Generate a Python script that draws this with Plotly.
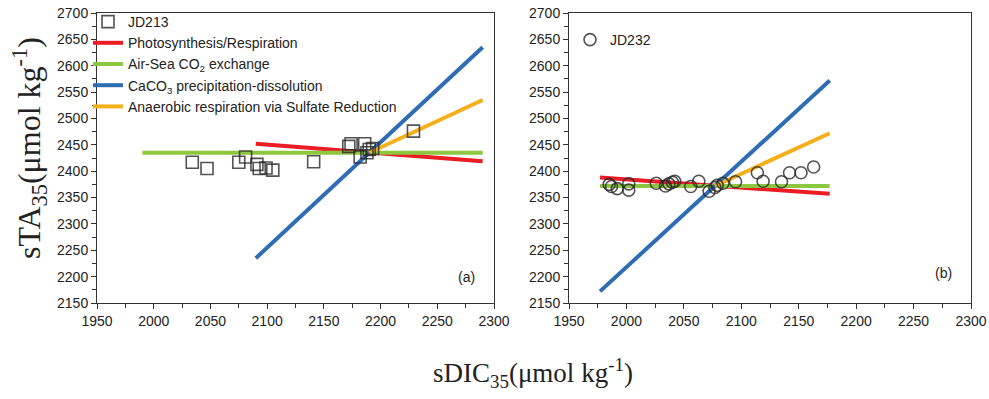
import plotly.graph_objects as go

# ---------------- data ----------------
# Panel (a) JD213
a_dic = [2034, 2047, 2075, 2081, 2091, 2093, 2099, 2105, 2141, 2172, 2174, 2186, 2182, 2188, 2190, 2193, 2229]
a_ta  = [2417, 2405, 2417, 2427, 2413, 2405, 2406, 2402, 2418, 2447, 2452, 2452, 2427, 2435, 2441, 2443, 2476]
# Panel (b) JD232
b_dic = [1985, 1987, 1992, 2002, 2002, 2026, 2034, 2037, 2042, 2040, 2056, 2063, 2072, 2077, 2079, 2084, 2095, 2114, 2119, 2135, 2142, 2152, 2163]
b_ta  = [2375, 2371, 2367, 2376, 2364, 2377, 2372, 2376, 2381, 2379, 2371, 2381, 2362, 2369, 2373, 2377, 2380, 2397, 2381, 2380, 2397, 2397, 2408]

# process vectors (end points) panel a
a_ps_x, a_ps_y = [2090, 2290], [2452, 2419]
a_as_x, a_as_y = [1990, 2290], [2435, 2435]
a_ca_x, a_ca_y = [2090, 2290], [2235, 2635]
a_sr_x, a_sr_y = [2190, 2290], [2435, 2535]
# panel b
b_ps_x, b_ps_y = [1977, 2177], [2388, 2357]
b_as_x, b_as_y = [1977, 2177], [2372, 2372]
b_ca_x, b_ca_y = [1977, 2177], [2172, 2572]
b_sr_x, b_sr_y = [2077, 2177], [2372, 2472]

x_ticks = [1950, 2000, 2050, 2100, 2150, 2200, 2250, 2300]
y_ticks = [2150, 2200, 2250, 2300, 2350, 2400, 2450, 2500, 2550, 2600, 2650, 2700]

names = ["Photosynthesis/Respiration", "Air-Sea CO<sub>2</sub> exchange",
         "CaCO<sub>3</sub> precipitation-dissolution", "Anaerobic respiration via Sulfate Reduction"]
colors = ["#EC1C24", "#8DC63F", "#2E6DB4", "#F3B01B"]

fig = go.Figure()

lines_a = [(a_ps_x, a_ps_y), (a_as_x, a_as_y), (a_ca_x, a_ca_y), (a_sr_x, a_sr_y)]
lines_b = [(b_ps_x, b_ps_y), (b_as_x, b_as_y), (b_ca_x, b_ca_y), (b_sr_x, b_sr_y)]

for i, (xs, ys) in enumerate(lines_a):
    fig.add_trace(go.Scatter(x=xs, y=ys, mode="lines", name=names[i],
                             line=dict(color=colors[i], width=4),
                             xaxis="x", yaxis="y", legend="legend", legendrank=10 + i))
fig.add_trace(go.Scatter(x=a_dic, y=a_ta, mode="markers", name="JD213",
                         marker=dict(symbol="square-open", size=12, color="rgba(40,40,40,0.8)",
                                     line=dict(width=1.6)),
                         xaxis="x", yaxis="y", legend="legend", legendrank=1))

for i, (xs, ys) in enumerate(lines_b):
    fig.add_trace(go.Scatter(x=xs, y=ys, mode="lines", name=names[i], showlegend=False,
                             line=dict(color=colors[i], width=4),
                             xaxis="x2", yaxis="y2"))
fig.add_trace(go.Scatter(x=b_dic, y=b_ta, mode="markers", name="JD232",
                         marker=dict(symbol="circle-open", size=12, color="rgba(40,40,40,0.8)",
                                     line=dict(width=1.6)),
                         xaxis="x2", yaxis="y2", legend="legend2"))

tickfont = dict(family="Liberation Sans, Arial", size=14, color="#222")
axcommon = dict(showgrid=False, zeroline=False, showline=True, linecolor="#333", linewidth=1,
                mirror=True, ticks="outside", ticklen=5, tickcolor="#333", tickfont=tickfont,
                automargin=False,
                minor=dict(dtick=25, ticks="outside", ticklen=4, tickcolor="#333"))

top_px, bot_px = 13, 303
ydom = [1 - bot_px/399, 1 - top_px/399]

fig.update_layout(
    width=989, height=399,
    margin=dict(l=0, r=0, t=0, b=0),
    paper_bgcolor="white", plot_bgcolor="white",
    xaxis=dict(domain=[97/989, 494/989], range=[1950, 2300], tickvals=x_ticks, anchor="y", **axcommon),
    yaxis=dict(domain=ydom, range=[2150, 2700], tickvals=y_ticks, anchor="x", **axcommon),
    xaxis2=dict(domain=[569/989, 971/989], range=[1950, 2300], tickvals=x_ticks, anchor="y2", **axcommon),
    yaxis2=dict(domain=ydom, range=[2150, 2700], tickvals=y_ticks, anchor="x2", **axcommon),
    legend=dict(x=88/989, y=1 - 6/399, xanchor="left", yanchor="top", bgcolor="rgba(0,0,0,0)",
                font=dict(family="Liberation Sans, Arial", size=14, color="#222"),
                tracegroupgap=0, itemwidth=30),
    legend2=dict(x=570/989, y=1 - 24/399, xanchor="left", yanchor="top", bgcolor="rgba(0,0,0,0)",
                 font=dict(family="Liberation Sans, Arial", size=14, color="#222"), itemwidth=30),
    annotations=[
        dict(x=2276, y=2200, xref="x", yref="y", text="(a)", showarrow=False,
             font=dict(family="Liberation Sans, Arial", size=14, color="#222")),
        dict(x=2276, y=2207, xref="x2", yref="y2", text="(b)", showarrow=False,
             font=dict(family="Liberation Sans, Arial", size=14, color="#222")),
        dict(x=29/989, y=1 - 148/399, xref="paper", yref="paper", textangle=-90,
             xanchor="center", yanchor="middle",
             text="sTA<sub>35</sub>(μmol kg<sup>-1</sup>)", showarrow=False,
             font=dict(family="Liberation Serif, Times New Roman", size=32, color="#222")),
        dict(x=533/989, y=1 - 373/399, xref="paper", yref="paper",
             xanchor="center", yanchor="middle",
             text="sDIC<sub>35</sub>(μmol kg<sup>-1</sup>)", showarrow=False,
             font=dict(family="Liberation Serif, Times New Roman", size=27, color="#222")),
    ],
)

fig.write_html("out.html")
